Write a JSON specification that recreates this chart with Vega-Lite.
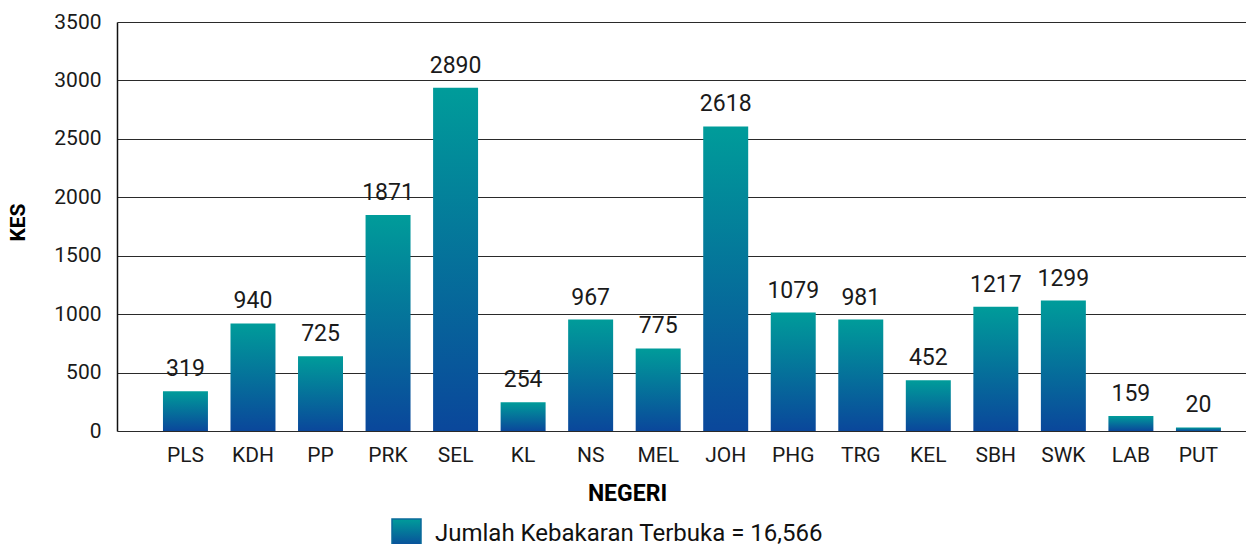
{
  "$schema": "https://vega.github.io/schema/vega-lite/v6.json",
  "width": 1129,
  "height": 409,
  "autosize": "none",
  "padding": {"left": 117, "top": 22, "right": 0, "bottom": 113},
  "config": {
    "font": "Roboto",
    "view": {"stroke": null},
    "axis": {"labelFont": "Roboto", "titleFont": "Roboto", "labelColor": "#1a1a1a", "titleColor": "#000"}
  },
  "data": {
    "values": [
      {"negeri": "PLS", "kes": 340, "label": "319", "series": "Jumlah Kebakaran Terbuka = 16,566"},
      {"negeri": "KDH", "kes": 920, "label": "940", "series": "Jumlah Kebakaran Terbuka = 16,566"},
      {"negeri": "PP", "kes": 639, "label": "725", "series": "Jumlah Kebakaran Terbuka = 16,566"},
      {"negeri": "PRK", "kes": 1848, "label": "1871", "series": "Jumlah Kebakaran Terbuka = 16,566"},
      {"negeri": "SEL", "kes": 2938, "label": "2890", "series": "Jumlah Kebakaran Terbuka = 16,566"},
      {"negeri": "KL", "kes": 247, "label": "254", "series": "Jumlah Kebakaran Terbuka = 16,566"},
      {"negeri": "NS", "kes": 954, "label": "967", "series": "Jumlah Kebakaran Terbuka = 16,566"},
      {"negeri": "MEL", "kes": 707, "label": "775", "series": "Jumlah Kebakaran Terbuka = 16,566"},
      {"negeri": "JOH", "kes": 2606, "label": "2618", "series": "Jumlah Kebakaran Terbuka = 16,566"},
      {"negeri": "PHG", "kes": 1013, "label": "1079", "series": "Jumlah Kebakaran Terbuka = 16,566"},
      {"negeri": "TRG", "kes": 954, "label": "981", "series": "Jumlah Kebakaran Terbuka = 16,566"},
      {"negeri": "KEL", "kes": 434, "label": "452", "series": "Jumlah Kebakaran Terbuka = 16,566"},
      {"negeri": "SBH", "kes": 1064, "label": "1217", "series": "Jumlah Kebakaran Terbuka = 16,566"},
      {"negeri": "SWK", "kes": 1116, "label": "1299", "series": "Jumlah Kebakaran Terbuka = 16,566"},
      {"negeri": "LAB", "kes": 128, "label": "159", "series": "Jumlah Kebakaran Terbuka = 16,566"},
      {"negeri": "PUT", "kes": 30, "label": "20", "series": "Jumlah Kebakaran Terbuka = 16,566"}
    ]
  },
  "encoding": {
    "x": {
      "field": "negeri", "type": "nominal", "sort": null,
      "scale": {"paddingInner": 0.334, "paddingOuter": 0.526, "align": 0.647},
      "axis": {
        "title": "NEGERI", "titleFontSize": 23, "titleFontWeight": "bold",
        "titleX": 510, "titleY": 62, "titleAlign": "center", "titleBaseline": "middle",
        "labelAngle": 0, "labelFontSize": 21, "labelPadding": 13, "ticks": false, "domain": false
      }
    },
    "y": {
      "field": "kes", "type": "quantitative",
      "scale": {"domain": [0, 3500], "nice": false},
      "axis": {
        "title": "KES", "titleFontSize": 21, "titleFontWeight": "bold",
        "titleX": -99, "titleY": 200, "titleAngle": -90, "titleAlign": "center", "titleBaseline": "middle",
        "values": [0, 500, 1000, 1500, 2000, 2500, 3000, 3500], "format": "d",
        "labelFontSize": 21, "labelPadding": 16, "ticks": false,
        "domainColor": "#111", "domainWidth": 1.5,
        "grid": true, "gridColor": "#2a2a2a", "gridWidth": 1.2
      }
    }
  },
  "layer": [
    {
      "mark": {
        "type": "bar",
        "fill": {"gradient": "linear", "x1": 0, "y1": 0, "x2": 0, "y2": 1,
          "stops": [{"offset": 0, "color": "#009C9A"}, {"offset": 1, "color": "#0A479B"}]},
        "strokeWidth": 0
      },
      "encoding": {
        "stroke": {
          "field": "series", "type": "nominal",
          "scale": {"range": ["#0A6A9A"]},
          "legend": {
            "title": null, "orient": "none", "legendX": 274, "legendY": 496,
            "padding": 0, "symbolType": "square", "symbolSize": 841, "symbolOffset": 0,
            "labelFontSize": 24, "labelFont": "Roboto", "labelColor": "#111", "labelOffset": 13, "labelLimit": 600,
            "encode": {
              "symbols": {
                "update": {
                  "fill": {"value": {"gradient": "linear", "x1": 0, "y1": 0, "x2": 0, "y2": 1,
                    "stops": [{"offset": 0, "color": "#009C9A"}, {"offset": 1, "color": "#0A479B"}]}},
                  "stroke": {"value": "transparent"},
                  "strokeWidth": {"value": 0},
                  "opacity": {"value": 1}
                }
              }
            }
          }
        }
      }
    },
    {
      "mark": {"type": "text", "baseline": "middle", "dy": -22, "fontSize": 23, "font": "Roboto", "color": "#1a1a1a"},
      "encoding": {"text": {"field": "label"}}
    }
  ]
}
